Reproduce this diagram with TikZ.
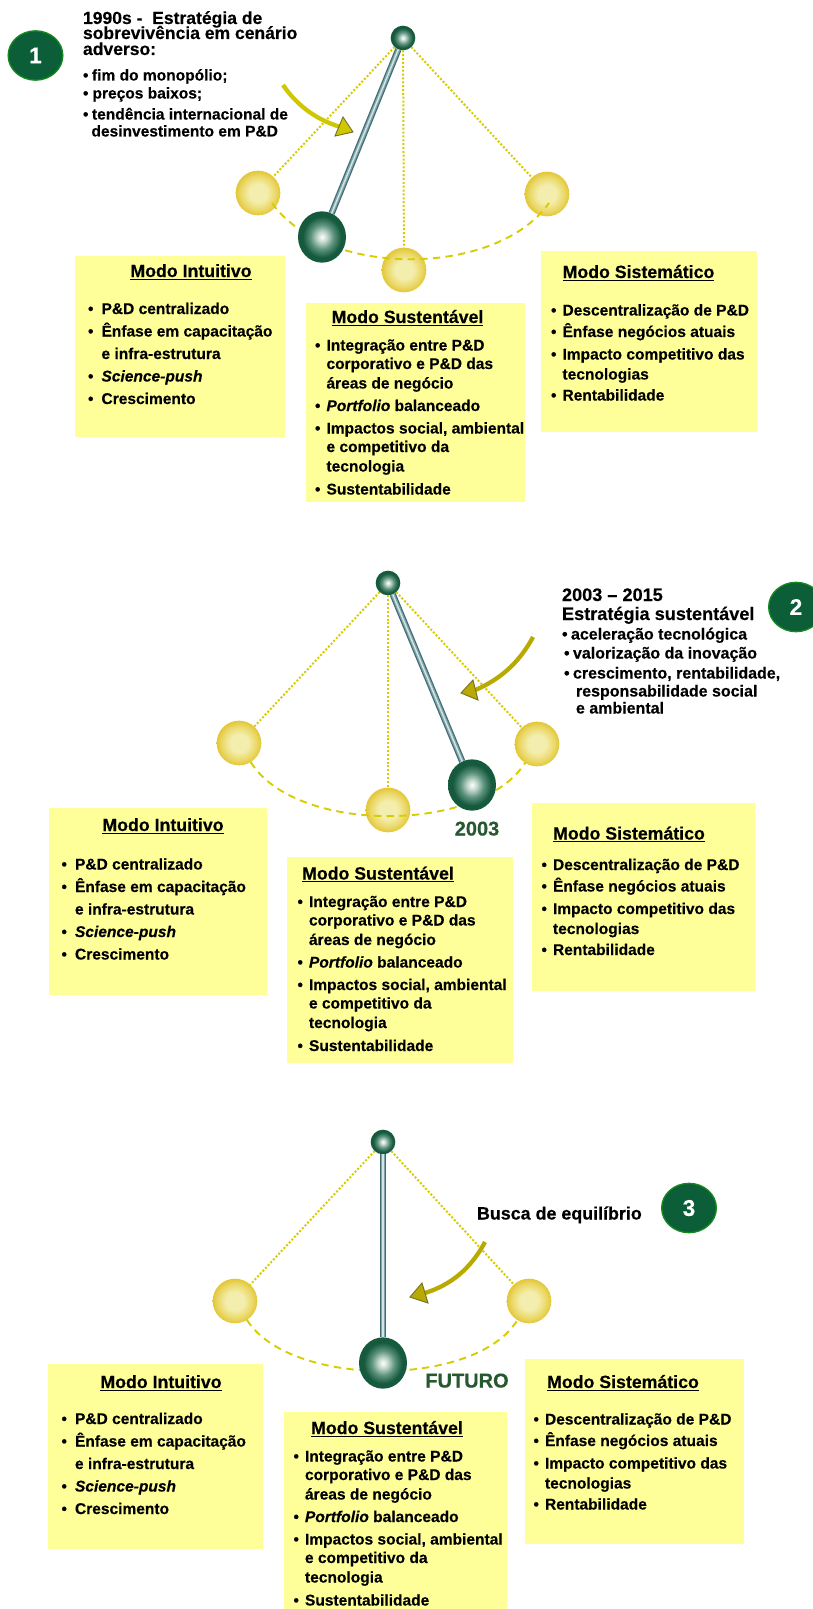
\documentclass[tikz,border=0pt]{standalone}
\usepackage{fontspec}
\setmainfont{Liberation Sans}[BoldFeatures={FakeBold=0.35},BoldItalicFeatures={FakeBold=0.35}]
\usetikzlibrary{shapes.geometric}
\definecolor{boxy}{HTML}{FFFF99}
\definecolor{badgeg}{HTML}{0C5E38}
\definecolor{badgeb}{HTML}{148A1E}
\definecolor{dotc}{HTML}{D6CC00}
\definecolor{dashc}{HTML}{D6CC00}
\definecolor{arrA}{HTML}{CFC700}
\definecolor{arrB}{HTML}{B8AA00}
\definecolor{arrE}{HTML}{77722A}
\definecolor{yearc}{HTML}{26592F}
\definecolor{gEdge}{HTML}{165A3E}
\definecolor{gMid}{HTML}{5E937E}
\definecolor{gLite}{HTML}{C4D8CF}
\definecolor{yEdge}{HTML}{E3C738}
\definecolor{yMid}{HTML}{EBD96A}
\definecolor{yLite}{HTML}{F3EEAE}
\definecolor{rodE}{HTML}{406C72}
\definecolor{rodM}{HTML}{7FA3A8}
\definecolor{rodL}{HTML}{D3E4E4}
\pgfdeclareradialshading{greenball}{\pgfpoint{0bp}{0bp}}{color(0bp)=(white); color(5bp)=(gLite); color(12bp)=(gMid); color(20bp)=(gEdge); color(50bp)=(gEdge)}
\pgfdeclareradialshading{goldball}{\pgfpoint{0bp}{0bp}}{color(0bp)=(yLite); color(10bp)=(yLite); color(19bp)=(yMid); color(25bp)=(yEdge); color(50bp)=(yEdge)}
\newcommand{\bodyf}{\fontsize{11.65pt}{13pt}\selectfont\bfseries}
\newcommand{\listf}{\fontsize{12pt}{14pt}\selectfont\bfseries}
\newcommand{\headf}{\fontsize{13.15pt}{15pt}\selectfont\bfseries}
\newcommand{\headg}{\fontsize{13.6pt}{15pt}\selectfont\bfseries}
\newcommand{\ttlf}{\fontsize{13.3pt}{15pt}\selectfont\bfseries}
\tikzset{
  x=.75pt,y=-.75pt,
  txt/.style={anchor=base west,inner sep=0pt,outer sep=0pt,font=\bodyf,text=black},
  lst/.style={txt,font=\listf},
  hdr/.style={txt,font=\headf},
  hdg/.style={txt,font=\headg},
  ttl/.style={anchor=base,inner sep=0pt,font=\ttlf,text=black},
  yr/.style={anchor=base,inner sep=0pt,font=\fontsize{15pt}{17pt}\selectfont\bfseries,text=yearc},
  panelbox/.style={fill=boxy,draw=none},
  badge/.style={ellipse,draw=badgeb,line width=1pt,fill=badgeg,minimum width=41pt,minimum height=37pt,inner sep=0pt,text=white,font=\fontsize{17pt}{19pt}\selectfont\bfseries},
  goldb/.style={circle,shade,shading=goldball,minimum size=33.5pt,inner sep=0pt,outer sep=0pt},
  heavyb/.style={ellipse,shade,shading=greenball,minimum width=36pt,minimum height=38.5pt,inner sep=0pt,outer sep=0pt},
  pivotb/.style={circle,shade,shading=greenball,minimum size=18.5pt,inner sep=0pt,outer sep=0pt},
  dotl/.style={draw=dotc,line width=1.5pt,dash pattern=on 1.5pt off 1.4pt},
  dashl/.style={draw=dashc,line width=1.4pt,dash pattern=on 5.5pt off 4pt},
  shaft/.style={line width=3.2pt},
  ahead/.style={draw=arrE,line width=.7pt,line join=miter},
}
% #1 prefix, #2-#5 box, #6 title x, #7 text reference y, #8 text x, #9 title y
\newcommand{\intuitivo}[9]{
  \path[panelbox] (#2,#3) rectangle (#4,#5);
  \node[ttl] (#1t) at (#6,#9+6) {\underline{Modo Intuitivo}};
  \node[txt] (#1b1) at (#8-13.5,#7+44) {•}; \node[txt] (#1l1) at (#8,#7+44) {P\&D centralizado};
  \node[txt] (#1b2) at (#8-13.5,#7+66.5) {•}; \node[txt] (#1l2) at (#8,#7+66.5) {Ênfase em capacitação};
  \node[txt] (#1l3) at (#8,#7+89) {e infra-estrutura};
  \node[txt] (#1b4) at (#8-13.5,#7+111.5) {•}; \node[txt] (#1l4) at (#8,#7+111.5) {\itshape Science-push};
  \node[txt] (#1b5) at (#8-13.5,#7+134) {•}; \node[txt] (#1l5) at (#8,#7+134) {Crescimento};
}
\newcommand{\sustentavel}[9]{
  \path[panelbox] (#2,#3) rectangle (#4,#5);
  \node[ttl] (#1t) at (#6,#9+6) {\underline{Modo Sustentável}};
  \node[txt] (#1b1) at (#8-11.5,#7+33.5) {•}; \node[txt] (#1l1) at (#8,#7+33.5) {Integração entre P\&D};
  \node[txt] (#1l2) at (#8,#7+52) {corporativo e P\&D das};
  \node[txt] (#1l3) at (#8,#7+71.5) {áreas de negócio};
  \node[txt] (#1b4) at (#8-11.5,#7+94) {•}; \node[txt] (#1l4) at (#8,#7+94) {\textit{Portfolio} balanceado};
  \node[txt] (#1b5) at (#8-11.5,#7+116.5) {•}; \node[txt] (#1l5) at (#8,#7+116.5) {Impactos social, ambiental};
  \node[txt] (#1l6) at (#8,#7+135) {e competitivo da};
  \node[txt] (#1l7) at (#8,#7+154.5) {tecnologia};
  \node[txt] (#1b8) at (#8-11.5,#7+177.5) {•}; \node[txt] (#1l8) at (#8,#7+177.5) {Sustentabilidade};
}
\newcommand{\sistematico}[9]{
  \path[panelbox] (#2,#3) rectangle (#4,#5);
  \node[ttl] (#1t) at (#6,#9+6) {\underline{Modo Sistemático}};
  \node[txt] (#1b1) at (#8-11.5,#7+43.5) {•}; \node[txt] (#1l1) at (#8,#7+43.5) {Descentralização de P\&D};
  \node[txt] (#1b2) at (#8-11.5,#7+65) {•}; \node[txt] (#1l2) at (#8,#7+65) {Ênfase negócios atuais};
  \node[txt] (#1b3) at (#8-11.5,#7+87.5) {•}; \node[txt] (#1l3) at (#8,#7+87.5) {Impacto competitivo das};
  \node[txt] (#1l4) at (#8,#7+107.5) {tecnologias};
  \node[txt] (#1b5) at (#8-11.5,#7+128.5) {•}; \node[txt] (#1l5) at (#8,#7+128.5) {Rentabilidade};
}
\newcommand{\rod}[2]{
  \draw[rodE,line width=4.8pt] (#1) -- (#2);
  \draw[rodM,line width=3pt] (#1) -- (#2);
  \draw[rodL,line width=1.1pt] (#1) -- (#2);
}
\begin{document}
\begin{tikzpicture}
\clip (0,0) rectangle (813,1609);
\fill[white] (0,0) rectangle (813,1609);

% ---------- Panel 1
\node[badge] (bd1) at (35.5,55.5) {1};
\node[hdr] (h1a) at (83,24) {1990s -\ \ Estratégia de};
\node[hdr] (h1b) at (83,39) {sobrevivência em cenário};
\node[hdr] (h1c) at (83,55) {adverso:};
\node[txt] (h1d) at (83,80.5) {•};
\node[txt] (h1e) at (92,80.5) {fim do monopólio;};
\node[txt] (h1f) at (83,98.5) {•};
\node[txt] (h1g) at (92.5,98.5) {preços baixos;};
\node[txt] (h1h) at (83,119.5) {•};
\node[txt] (h1i) at (92,119.5) {tendência internacional de};
\node[txt] (h1j) at (91.5,136.5) {desinvestimento em P\&D};

\node[pivotb] (pv1) at (403,38) {};
\node[goldb] (gl1) at (258,193) {};
\node[goldb] (gm1) at (404,270) {};
\node[goldb] (gr1) at (547,194) {};
\draw[dotl] (pv1) -- (gl1);
\draw[dotl] (pv1) -- (gm1);
\draw[dotl] (pv1) -- (gr1);
\coordinate (al1) at (272,203);
\coordinate (ar1) at (549,203);
\draw[dashl] (al1) .. controls (325,278) and (496,278) .. (ar1);
\node[heavyb] (hv1) at (322,237) {};
\rod{pv1}{hv1}
\coordinate (as1) at (283,85);
\coordinate (am1) at (339,126.5);
\coordinate (at1) at (353,132);
\coordinate (au1) at (343,117);
\coordinate (av1) at (335,136);
\draw[arrA,shaft] (as1) .. controls (298,107) and (318,120) .. (am1);
\draw[ahead,fill=arrA] (at1) -- (au1) -- (av1) -- cycle;

\intuitivo{a1}{75}{256}{285}{437}{191}{270}{101.5}{271}
\sustentavel{b1}{306}{303}{525}{502}{407.5}{317}{326.5}{317}
\sistematico{c1}{541}{251}{757}{432}{638.5}{272}{562.5}{272}

% ---------- Panel 2
\node[badge] (bd2) at (796,607) {2};
\node[hdg] (h2a) at (562,601) {2003 – 2015};
\node[hdg] (h2b) at (562,620) {Estratégia sustentável};
\node[lst] (h2c) at (562,639.5) {•};
\node[lst] (h2d) at (571,639.5) {aceleração tecnológica};
\node[lst] (h2e) at (564,658.5) {•};
\node[lst] (h2f) at (573,658.5) {valorização da inovação};
\node[lst] (h2g) at (564,678.5) {•};
\node[lst] (h2h) at (573,678.5) {crescimento, rentabilidade,};
\node[lst] (h2i) at (576,696.5) {responsabilidade social};
\node[lst] (h2j) at (576,713.5) {e ambiental};

\node[pivotb] (pv2) at (388,583) {};
\node[goldb] (gl2) at (239,743) {};
\node[goldb] (gm2) at (388,810) {};
\node[goldb] (gr2) at (537,744) {};
\draw[dotl] (pv2) -- (gl2);
\draw[dotl] (pv2) -- (gm2);
\draw[dotl] (pv2) -- (gr2);
\draw[dashl] (gl2) .. controls (295,834) and (480,834) .. (gr2);
\node[heavyb] (hv2) at (472,785) {};
\rod{pv2}{hv2}
\node[yr] (yr2) at (477,835.5) {2003};
\coordinate (as2) at (533,637);
\coordinate (am2) at (475.5,690);
\coordinate (at2) at (461,693);
\coordinate (au2) at (473,680);
\coordinate (av2) at (478,700);
\draw[arrB,shaft] (as2) .. controls (518,665) and (498,680) .. (am2);
\draw[ahead,fill=arrB] (at2) -- (au2) -- (av2) -- cycle;

\intuitivo{a2}{49}{808}{267}{995}{163}{825.5}{75}{825}
\sustentavel{b2}{287}{857}{513}{1063}{378}{873.5}{309}{873.5}
\sistematico{c2}{532}{803}{755}{991}{629}{826.5}{553}{833.5}

% ---------- Panel 3
\node[badge] (bd3) at (689,1208) {3};
\node[hdg,font=\fontsize{13.4pt}{15pt}\selectfont\bfseries] (h3a) at (477,1219.5) {Busca de equilíbrio};

\node[pivotb] (pv3) at (383,1142) {};
\node[goldb] (gl3) at (235,1301) {};
\node[goldb] (gr3) at (529,1301) {};
\draw[dotl] (pv3) -- (gl3);
\draw[dotl] (pv3) -- (gr3);
\draw[dashl] (gl3) .. controls (290,1388) and (476,1388) .. (gr3);
\node[heavyb] (hv3) at (383,1363) {};
\rod{pv3}{hv3}
\node[yr] (yr3) at (467,1387.5) {FUTURO};
\coordinate (as3) at (485,1242);
\coordinate (am3) at (425,1293);
\coordinate (at3) at (410,1297);
\coordinate (au3) at (422,1283);
\coordinate (av3) at (428,1303);
\draw[arrB,shaft] (as3) .. controls (470,1270) and (450,1285) .. (am3);
\draw[ahead,fill=arrB] (at3) -- (au3) -- (av3) -- cycle;

\intuitivo{a3}{48}{1364}{263}{1549}{161}{1380}{75}{1382}
\sustentavel{b3}{284}{1412}{507}{1609}{387}{1428}{305}{1428}
\sistematico{c3}{525}{1359}{744}{1544}{623}{1381}{545}{1382}
\end{tikzpicture}
\end{document}
